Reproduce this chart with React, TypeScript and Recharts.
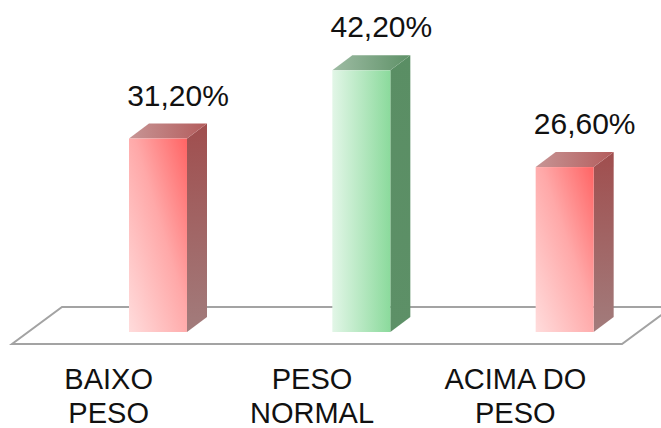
import { BarChart, Bar, XAxis, YAxis, LabelList, usePlotArea } from "recharts";

const CATEGORIES = ["BAIXO PESO", "PESO NORMAL", "ACIMA DO PESO"];
const TICK_LINES = [
  ["BAIXO", "PESO"],
  ["PESO", "NORMAL"],
  ["ACIMA DO", "PESO"],
];
const VALUES = [31.2, 42.2, 26.6];
const Y_DOMAIN = [0, 50];

const data = CATEGORIES.map((name, i) => ({ name, value: VALUES[i] }));

// 3d look
const SHIFT_X = 44;
const SHIFT_Y = -12;
const DEPTH_X = 20;
const DEPTH_Y = -15;
const FLOOR_X = 50;
const FLOOR_Y = -37;

const PALETTE = ["red", "green", "red"];
const FONT = "'Liberation Sans', Arial, sans-serif";

function Gradients() {
  return (
    <defs>
      <linearGradient id="redFront" x1="0" y1="1" x2="1" y2="0">
        <stop offset="0%" stopColor="#ffdcdc" />
        <stop offset="55%" stopColor="#ffa8a8" />
        <stop offset="100%" stopColor="#ff6464" />
      </linearGradient>
      <linearGradient id="redSide" x1="0" y1="0" x2="0" y2="1">
        <stop offset="0%" stopColor="#a04e4e" />
        <stop offset="100%" stopColor="#a27c7c" />
      </linearGradient>
      <linearGradient id="redTop" x1="0" y1="0" x2="1" y2="0">
        <stop offset="0%" stopColor="#c79595" />
        <stop offset="100%" stopColor="#b35c5c" />
      </linearGradient>
      <linearGradient id="greenFront" x1="0" y1="0" x2="1" y2="0">
        <stop offset="0%" stopColor="#e2f6e7" />
        <stop offset="100%" stopColor="#8bda9c" />
      </linearGradient>
      <linearGradient id="greenSide" x1="0" y1="0" x2="0" y2="1">
        <stop offset="0%" stopColor="#5a8e64" />
        <stop offset="100%" stopColor="#5d9067" />
      </linearGradient>
      <linearGradient id="greenTop" x1="0" y1="0" x2="1" y2="0">
        <stop offset="0%" stopColor="#9ebca4" />
        <stop offset="100%" stopColor="#5e9167" />
      </linearGradient>
    </defs>
  );
}

function Floor() {
  const area = usePlotArea();
  if (!area) return null;
  const left = area.x;
  const right = area.x + area.width;
  const bottom = area.y + area.height;
  const pts = [
    [left, bottom],
    [right, bottom],
    [right + FLOOR_X, bottom + FLOOR_Y],
    [left + FLOOR_X, bottom + FLOOR_Y],
  ]
    .map((p) => p.join(","))
    .join(" ");
  return <polygon points={pts} fill="#fff" stroke="#a3a3a3" strokeWidth={2} />;
}

function Bar3D(props: any) {
  const { x, y, width, height, index } = props;
  const c = PALETTE[index];
  const fx = x + SHIFT_X;
  const fy = y + SHIFT_Y;
  const side = [
    [fx + width, fy],
    [fx + width + DEPTH_X, fy + DEPTH_Y],
    [fx + width + DEPTH_X, fy + height + DEPTH_Y],
    [fx + width, fy + height],
  ];
  const top = [
    [fx, fy],
    [fx + DEPTH_X, fy + DEPTH_Y],
    [fx + width + DEPTH_X, fy + DEPTH_Y],
    [fx + width, fy],
  ];
  const pts = (a: number[][]) => a.map((p) => p.join(",")).join(" ");
  return (
    <g>
      <polygon points={pts(side)} fill={`url(#${c}Side)`} />
      <polygon points={pts(top)} fill={`url(#${c}Top)`} />
      <rect x={fx} y={fy} width={width} height={height} fill={`url(#${c}Front)`} />
    </g>
  );
}

function ValueLabel(props: any) {
  const { x, y, width, value } = props;
  const text = Number(value).toFixed(2).replace(".", ",") + "%";
  return (
    <text
      x={x + SHIFT_X + width / 2 + 20}
      y={y + SHIFT_Y - 33}
      textAnchor="middle"
      fontSize={30}
      fontFamily={FONT}
      fill="#111"
    >
      {text}
    </text>
  );
}

function CategoryTick(props: any) {
  const { x, y, index } = props;
  const lines = TICK_LINES[index] || [];
  return (
    <text x={x - 5} y={y} textAnchor="middle" fontSize={29} fontFamily={FONT} fill="#111">
      {lines.map((l, i) => (
        <tspan key={i} x={x - 5} y={y + 37 + i * 34}>
          {l}
        </tspan>
      ))}
    </text>
  );
}

export default function App() {
  return (
    <div style={{ position: "absolute", left: 0, top: 0, background: "#fff" }}>
      <BarChart
        width={661}
        height={428}
        data={data}
        margin={{ top: 34, right: 39, bottom: 0, left: 12 }}
        barSize={58}
      >
        <Gradients />
        <Floor />
        <XAxis
          dataKey="name"
          axisLine={false}
          tickLine={false}
          tick={<CategoryTick />}
          interval={0}
          height={84}
        />
        <YAxis hide domain={Y_DOMAIN} />
        <Bar dataKey="value" shape={<Bar3D />} isAnimationActive={false}>
          <LabelList dataKey="value" content={<ValueLabel />} />
        </Bar>
      </BarChart>
    </div>
  );
}
